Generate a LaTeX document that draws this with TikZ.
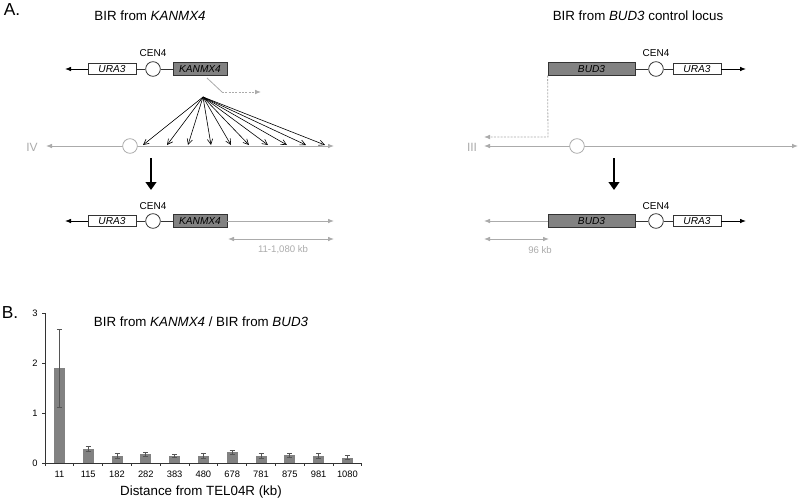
\documentclass[tikz,border=0pt]{standalone}
\usepackage{fontspec}
\setmainfont{Liberation Sans}
\usetikzlibrary{arrows.meta}
\definecolor{chr}{HTML}{ABABAB}
\definecolor{gbox}{HTML}{828282}
\definecolor{dk}{HTML}{333333}
\definecolor{ebar}{HTML}{555555}
\begin{document}
\begin{tikzpicture}[x=0.75pt,y=-0.75pt,
  gene/.style={draw=dk,line width=0.6pt,minimum height=8.5pt,inner sep=0pt,font=\fontsize{7.6}{8}\selectfont\itshape},
  ggene/.style={gene,fill=gbox,minimum height=9.5pt},
  cen/.style={draw=dk,circle,line width=0.6pt,minimum size=11pt,inner sep=0pt,fill=white},
  gcen/.style={draw=chr,circle,line width=0.6pt,minimum size=11pt,inner sep=0pt,fill=white},
  lbl/.style={font=\fontsize{7.5}{8}\selectfont,inner sep=0pt},
  glbl/.style={font=\fontsize{7.2}{8}\selectfont,text=chr,inner sep=0pt},
  ttl/.style={font=\fontsize{10}{12}\selectfont,inner sep=0pt},
  big/.style={font=\fontsize{13}{15}\selectfont,inner sep=0pt},
  blk/.style={line width=0.7pt,draw=black,-{Latex[length=4.5pt,width=3.5pt]}},
  chrline/.style={line width=0.7pt,draw=chr,{Latex[length=4.5pt,width=3.5pt]}-{Latex[length=4.5pt,width=3.5pt]}},
  chrone/.style={line width=0.7pt,draw=chr,-{Latex[length=4.5pt,width=3.5pt]}},
  dsh/.style={line width=0.6pt,draw=chr,dash pattern=on 1.5pt off 1pt},
  fan/.style={line width=0.45pt,draw=black,-{Straight Barb[length=4pt,width=4pt]}},
  bigarrow/.style={line width=2.2pt,-{Triangle[length=6pt,width=8pt]}},
  bar/.style={fill=gbox,draw=none},
  err/.style={draw=ebar,line width=0.5pt},
  tick/.style={font=\fontsize{7}{8}\selectfont,inner sep=0pt}
]
\useasboundingbox (0,0) rectangle (800,501);

% ---------------- Panel A labels
\node[big] (A) at (12,10) {A.};
\node[ttl] (t1) at (150,16) {BIR from \textit{KANMX4}};
\node[ttl] (t2) at (638,16) {BIR from \textit{BUD3} control locus};

% ---------------- Left top construct
\coordinate (l1) at (65,69);
\node[gene,minimum width=36pt] (u1) at (112,69) {URA3};
\node[cen] (c1) at (153,69) {};
\node[lbl] (cl1) at (153,53) {CEN4};
\node[ggene,minimum width=40.5pt] (k1) at (200,69) {KANMX4};
\draw[blk] (u1.west) -- (l1);
\draw[line width=0.6pt,draw=dk] (u1.east) -- (c1.west) (c1.east) -- (k1.west);
\coordinate (d1) at (207,78);
\coordinate (d2) at (222,92);
\coordinate (d3) at (261,92);
\draw[line width=0.6pt,draw=chr] (d1) -- (d2);
\draw[dsh,-{Latex[length=4.5pt,width=3.5pt]}] (d2) -- (d3);

% chromosome IV
\node[font=\fontsize{9}{10}\selectfont,text=chr,inner sep=0pt] (iv) at (32,147) {IV};
\coordinate (iva) at (46,146);
\coordinate (ivb) at (334,146);
\draw[chrline] (iva) -- (ivb);
\node[gcen] (civ) at (130,146) {};
\coordinate (fp) at (203,97);
\foreach \x [count=\i] in {143,167,188,211,231,249,268,287,306,325}{
  \coordinate (t\i) at (\x,145);
  \draw[fan] (fp) -- (t\i);
}

% big arrow left
\coordinate (ba1) at (151,158);
\coordinate (ba2) at (151,190);
\draw[bigarrow] (ba1) -- (ba2);

% left bottom construct
\coordinate (l2) at (65,221);
\node[gene,minimum width=36pt] (u2) at (112,221) {URA3};
\node[cen] (c2) at (153,221) {};
\node[lbl] (cl2) at (153,206) {CEN4};
\node[ggene,minimum width=40.5pt] (k2) at (200,221) {KANMX4};
\draw[blk] (u2.west) -- (l2);
\draw[line width=0.6pt,draw=dk] (u2.east) -- (c2.west) (c2.east) -- (k2.west);
\coordinate (r2) at (334,221);
\draw[chrone] (k2.east) -- (r2);
\coordinate (s1) at (228,239);
\coordinate (s2) at (334,239);
\draw[chrline] (s1) -- (s2);
\node[glbl] (sl) at (283,250) {11-1,080 kb};

% ---------------- Right top construct
\node[ggene,minimum width=65.25pt] (b1) at (591.5,69) {BUD3};
\node[cen] (c3) at (656,69) {};
\node[lbl] (cl3) at (656,53) {CEN4};
\node[gene,minimum width=36pt] (u3) at (697,69) {URA3};
\coordinate (r3) at (746,69);
\draw[line width=0.6pt,draw=dk] (b1.east) -- (c3.west) (c3.east) -- (u3.west);
\draw[blk] (u3.east) -- (r3);
\coordinate (e1) at (548,137);
\coordinate (e2) at (484,137);
\draw[dsh,-{Latex[length=4.5pt,width=3.5pt]}] (b1.south west) -- (e1) -- (e2);

% chromosome III
\node[font=\fontsize{9}{10}\selectfont,text=chr,inner sep=0pt] (iii) at (472,147) {III};
\coordinate (iiia) at (484,146);
\coordinate (iiib) at (798,146);
\draw[chrline] (iiia) -- (iiib);
\node[gcen] (ciii) at (577,146) {};

% big arrow right
\coordinate (bb1) at (614,158);
\coordinate (bb2) at (614,190);
\draw[bigarrow] (bb1) -- (bb2);

% right bottom construct
\node[ggene,minimum width=65.25pt] (b2) at (591.5,221) {BUD3};
\node[cen] (c4) at (656,221) {};
\node[lbl] (cl4) at (656,206) {CEN4};
\node[gene,minimum width=36pt] (u4) at (697,221) {URA3};
\coordinate (r4) at (746,221);
\coordinate (l4) at (484,221);
\draw[line width=0.6pt,draw=dk] (b2.east) -- (c4.west) (c4.east) -- (u4.west);
\draw[blk] (u4.east) -- (r4);
\draw[chrone] (b2.west) -- (l4);
\coordinate (s3) at (484,239);
\coordinate (s4) at (549,239);
\draw[chrline] (s3) -- (s4);
\node[glbl] (sl2) at (540,250) {96 kb};

% ---------------- Panel B
\node[big] (B) at (10,313) {B.};
\node[ttl] (t3) at (201,322) {BIR from \textit{KANMX4} / BIR from \textit{BUD3}};
\coordinate (o) at (45,463);
\coordinate (ytop) at (45,313);
\coordinate (xend) at (362,463);
% bars
\foreach \lab/\v/\e [count=\i from 0] in {11/1.9/0.78,115/0.28/0.05,182/0.15/0.05,282/0.18/0.04,383/0.15/0.03,480/0.15/0.05,678/0.22/0.04,781/0.15/0.05,875/0.16/0.04,981/0.15/0.05,1080/0.11/0.04}{
  \pgfmathsetmacro{\cx}{45+28.8*(\i+0.5)}
  \pgfmathsetmacro{\top}{463-50*\v}
  \pgfmathsetmacro{\eh}{463-50*(\v+\e)}
  \pgfmathsetmacro{\el}{463-50*(\v-\e)}
  \fill[bar] (\cx-5.5,463) rectangle (\cx+5.5,\top);
  \draw[err] (\cx,\eh) -- (\cx,\el) (\cx-2.5,\eh) -- (\cx+2.5,\eh) (\cx-2.5,\el) -- (\cx+2.5,\el);
  \node[tick] (xl\i) at (\cx,474) {\lab};
}
% axes
\draw[draw=dk,line width=0.6pt] (ytop) -- (o) -- (xend);
\foreach \k in {0,...,11}{
  \draw[draw=dk,line width=0.6pt] (45+28.8*\k,463) -- (45+28.8*\k,466);
}
\foreach \v in {0,1,2,3}{
  \draw[draw=dk,line width=0.6pt] (42,463-50*\v) -- (45,463-50*\v);
  \node[tick] (yl\v) at (35,463-50*\v) {\v};
}
\node[ttl] (xt) at (201,492) {Distance from TEL04R (kb)};
\end{tikzpicture}
\end{document}
